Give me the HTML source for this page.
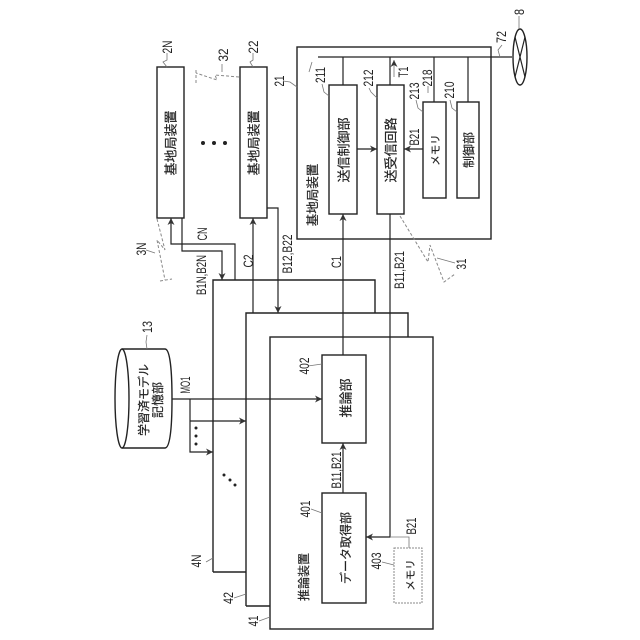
<!DOCTYPE html>
<html><head><meta charset="utf-8"><style>
html,body{margin:0;padding:0;background:#fff}
svg{display:block}
text{font-family:"Liberation Sans","Noto Sans CJK JP",sans-serif;fill:#222;text-anchor:middle;dominant-baseline:central}
.j text{stroke:#222;stroke-width:.2}
.b{fill:none;stroke:#222;stroke-width:1.4}
.l{fill:none;stroke:#222;stroke-width:1.2}
.g{fill:none;stroke:#777;stroke-width:.8}
.d{fill:none;stroke:#888;stroke-width:1;stroke-dasharray:3 2}
</style></head><body>
<svg width="640" height="640" viewBox="0 0 640 640" xmlns="http://www.w3.org/2000/svg">
<defs><marker id="a" markerWidth="8" markerHeight="8" refX="7" refY="3.5" orient="auto" markerUnits="userSpaceOnUse"><path d="M0 0L7 3.5L0 7L2 3.5Z" fill="#333"/></marker></defs>

<!-- base station 21 -->
<rect class="b" x="297" y="47" width="194" height="192"/>
<path class="l" d="M318 57H512M343 57V85M390 57V85M434 57V102M468 57V102"/>
<rect class="b" x="329" y="85" width="28" height="129"/>
<rect class="b" x="377" y="85" width="27" height="129"/>
<rect class="b" x="423" y="102" width="23" height="96"/>
<rect class="b" x="457" y="102" width="22" height="96"/>
<ellipse class="b" cx="520" cy="57" rx="7" ry="28"/>
<path class="l" d="M515 37L525 77M525 37L515 77"/>
<path class="l" d="M357 149H377" marker-end="url(#a)"/>
<path class="l" d="M423 149H404" marker-end="url(#a)"/>
<path class="g" d="M394 77V60" marker-end="url(#a)"/>

<!-- base stations -->
<rect class="b" x="157" y="67" width="27" height="151"/>
<rect class="b" x="240" y="67" width="27" height="151"/>
<circle cx="203" cy="143" r="2" fill="#222"/><circle cx="214" cy="143" r="2" fill="#222"/><circle cx="225" cy="143" r="2" fill="#222"/>

<!-- inference devices -->
<path class="b" d="M213 572V280H375V313M213 572H246"/>
<path class="b" d="M246 606V313H408V337M246 606H270"/>
<rect class="b" x="270" y="337" width="163" height="292"/>
<rect class="b" x="322" y="355" width="44" height="88"/>
<rect class="b" x="322" y="493" width="44" height="110"/>
<rect x="394" y="548" width="28" height="55" fill="none" stroke="#888" stroke-width="1" stroke-dasharray="2 1"/>

<!-- connectors -->
<path class="l" d="M343 355V214" marker-end="url(#a)"/>
<path class="l" d="M390 214V537H366" marker-end="url(#a)"/>
<path class="g" d="M409 548V537H390"/>
<path class="l" d="M343 493V443" marker-end="url(#a)"/>
<path class="l" d="M235 280V244H171V218" marker-end="url(#a)"/>
<path class="l" d="M182 218V251H222V280" marker-end="url(#a)"/>
<path class="l" d="M253 313V218" marker-end="url(#a)"/>
<path class="l" d="M267 208H278V313" marker-end="url(#a)"/>
<path class="l" d="M172 399H322" marker-end="url(#a)"/>
<path class="l" d="M190 399V452H213" marker-end="url(#a)"/>
<path class="l" d="M190 421H246" marker-end="url(#a)"/>
<circle cx="196" cy="428" r="1.5" fill="#222"/><circle cx="196" cy="436" r="1.5" fill="#222"/><circle cx="196" cy="444" r="1.5" fill="#222"/>
<circle cx="224" cy="475" r="1.5" fill="#222"/><circle cx="230" cy="480" r="1.5" fill="#222"/><circle cx="235" cy="485" r="1.5" fill="#222"/>

<!-- storage cylinder -->
<path class="b" d="M122 349H165C170 349 172 370 172 399C172 428 170 448 165 448H122"/>
<ellipse class="b" cx="122" cy="398.500" rx="7" ry="49.500"/>

<!-- wireless -->
<path class="d" d="M400 216L428 262L430 245L444 282L455 274"/>
<path class="g" d="M437 258L455 263"/>
<path class="d" d="M239 77L215 75L217 80L196 73M196 70V84"/>
<path class="g" d="M222 72V64"/>
<path class="d" d="M157 219L165 250L157 240L165 280M160 281L172 279"/>
<path class="g" d="M146 250L155 253"/>

<!-- leaders -->
<path class="g" d="M167 53L167 60L163 62L167 67M253 53L253 60L250 62L253 67M283 81L290 82L297 87M329 96L324 92L322 84M377 98L371 92L369 88M423 112L418 108L416 100M428 86V93M457 112L452 108L450 100M519 16V29M502 45L498 50L500 57M147 335L146 342L147 349M206 562L213 558M234 598L246 594M259 621L270 617M308 366L322 364M311 509L322 513M382 562L394 565M309 72L312 62"/>

<!-- labels -->
<g font-size="13" class="j">
<text transform="translate(171,143) rotate(-90)">基地局装置</text>
<text transform="translate(254,143) rotate(-90)">基地局装置</text>
<text transform="translate(313,195) rotate(-90)" font-size="12.500">基地局装置</text>
<text transform="translate(344,150) rotate(-90)">送信制御部</text>
<text transform="translate(391,150) rotate(-90)">送受信回路</text>
<text transform="translate(436,150) rotate(-90)" font-size="10.500">メモリ</text>
<text transform="translate(469,150) rotate(-90)" font-size="12">制御部</text>
<text transform="translate(346,398) rotate(-90)">推論部</text>
<text transform="translate(346,548) rotate(-90)" font-size="12">データ取得部</text>
<text transform="translate(411,575) rotate(-90)" font-size="10.500">メモリ</text>
<text transform="translate(304,577) rotate(-90)" font-size="12">推論装置</text>
<text transform="translate(144,400) rotate(-90)" font-size="12">学習済モデル</text>
<text transform="translate(158,400) rotate(-90)" font-size="12">記憶部</text>
</g>
<g font-size="14">
<text transform="translate(167,47) rotate(-90)" textLength="13" lengthAdjust="spacingAndGlyphs">2N</text>
<text transform="translate(223,55) rotate(-90)" textLength="13" lengthAdjust="spacingAndGlyphs">32</text>
<text transform="translate(253,47) rotate(-90)" textLength="13" lengthAdjust="spacingAndGlyphs">22</text>
<text transform="translate(279,81) rotate(-90)" textLength="11" lengthAdjust="spacingAndGlyphs">21</text>
<text transform="translate(141,249) rotate(-90)" textLength="13" lengthAdjust="spacingAndGlyphs">3N</text>
<text transform="translate(202,234) rotate(-90)" textLength="13" lengthAdjust="spacingAndGlyphs">CN</text>
<text transform="translate(201,275) rotate(-90)" textLength="40" lengthAdjust="spacingAndGlyphs">B1N,B2N</text>
<text transform="translate(248,261) rotate(-90)" textLength="13" lengthAdjust="spacingAndGlyphs">C2</text>
<text transform="translate(287,254) rotate(-90)" textLength="39" lengthAdjust="spacingAndGlyphs">B12,B22</text>
<text transform="translate(147,327) rotate(-90)" textLength="12" lengthAdjust="spacingAndGlyphs">13</text>
<text transform="translate(185,385) rotate(-90)" textLength="17" lengthAdjust="spacingAndGlyphs">MO1</text>
<text transform="translate(196,561) rotate(-90)" textLength="13" lengthAdjust="spacingAndGlyphs">4N</text>
<text transform="translate(228,598) rotate(-90)" textLength="12" lengthAdjust="spacingAndGlyphs">42</text>
<text transform="translate(253,621) rotate(-90)" textLength="11" lengthAdjust="spacingAndGlyphs">41</text>
<text transform="translate(320,75) rotate(-90)" textLength="16" lengthAdjust="spacingAndGlyphs">211</text>
<text transform="translate(368,78) rotate(-90)" textLength="17" lengthAdjust="spacingAndGlyphs">212</text>
<text transform="translate(414,91) rotate(-90)" textLength="17" lengthAdjust="spacingAndGlyphs">213</text>
<text transform="translate(427,78) rotate(-90)" textLength="17" lengthAdjust="spacingAndGlyphs">218</text>
<text transform="translate(449,90) rotate(-90)" textLength="17" lengthAdjust="spacingAndGlyphs">210</text>
<text transform="translate(403,72) rotate(-90)" textLength="11" lengthAdjust="spacingAndGlyphs">T1</text>
<text transform="translate(501,37) rotate(-90)" textLength="12" lengthAdjust="spacingAndGlyphs">72</text>
<text transform="translate(519,12) rotate(-90)" textLength="6" lengthAdjust="spacingAndGlyphs">8</text>
<text transform="translate(414,137) rotate(-90)" textLength="17" lengthAdjust="spacingAndGlyphs">B21</text>
<text transform="translate(336,262) rotate(-90)" textLength="12" lengthAdjust="spacingAndGlyphs">C1</text>
<text transform="translate(399,270) rotate(-90)" textLength="38" lengthAdjust="spacingAndGlyphs">B11,B21</text>
<text transform="translate(461,264) rotate(-90)" textLength="11" lengthAdjust="spacingAndGlyphs">31</text>
<text transform="translate(304,366) rotate(-90)" textLength="17" lengthAdjust="spacingAndGlyphs">402</text>
<text transform="translate(305,509) rotate(-90)" textLength="17" lengthAdjust="spacingAndGlyphs">401</text>
<text transform="translate(336,470) rotate(-90)" textLength="37" lengthAdjust="spacingAndGlyphs">B11,B21</text>
<text transform="translate(376,561) rotate(-90)" textLength="17" lengthAdjust="spacingAndGlyphs">403</text>
<text transform="translate(411,526) rotate(-90)" textLength="17" lengthAdjust="spacingAndGlyphs">B21</text>
</g>
</svg>
</body></html>
